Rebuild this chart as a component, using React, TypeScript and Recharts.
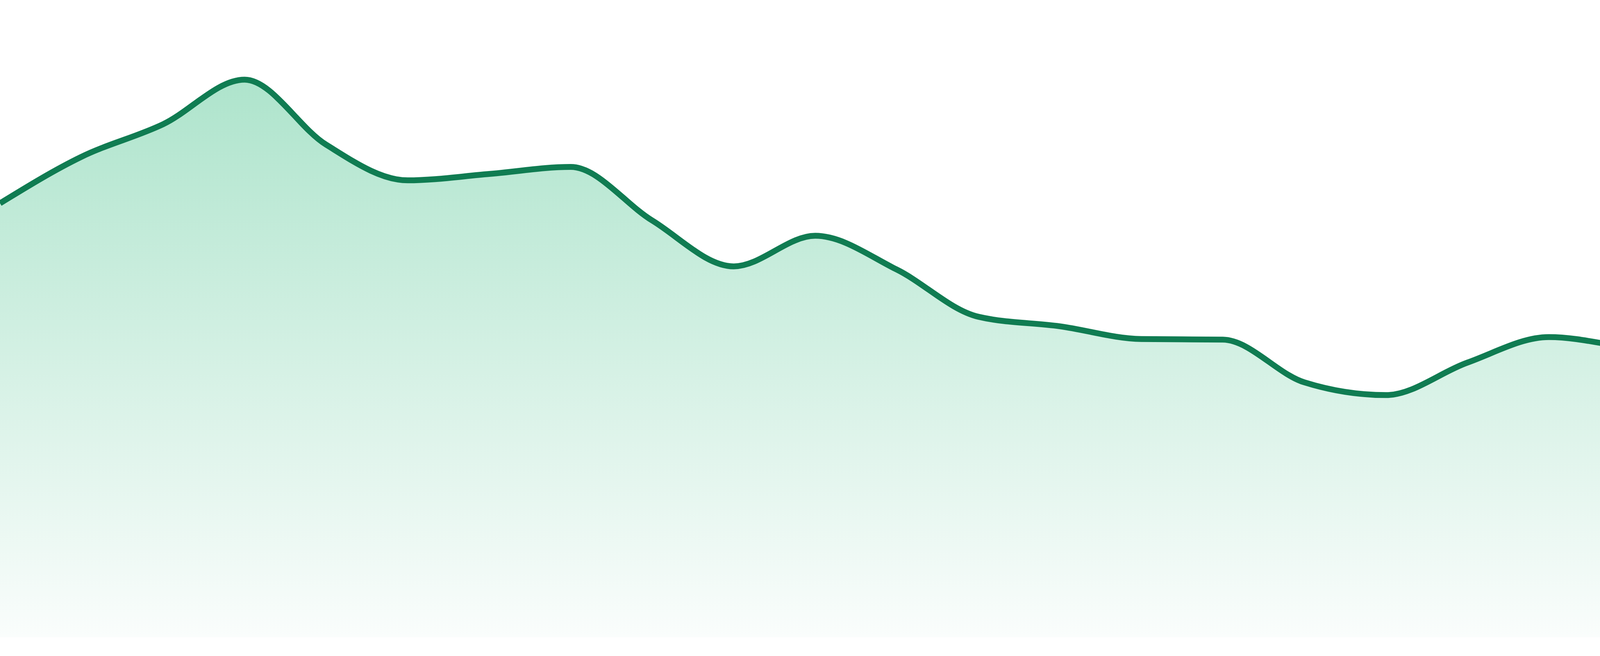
import { AreaChart, Area, XAxis, YAxis } from 'recharts';

// 24 evenly spaced samples, no axes shown in the original
const labels = [
  'P1', 'P2', 'P3', 'P4', 'P5', 'P6', 'P7', 'P8', 'P9', 'P10', 'P11', 'P12',
  'P13', 'P14', 'P15', 'P16', 'P17', 'P18', 'P19', 'P20', 'P21', 'P22', 'P23', 'P24',
];
const values = [
  68.1, 75.4, 80.5, 87.5, 77.3, 71.7, 72.7, 73.8, 65.4, 58.2, 63.0, 57.7,
  50.3, 48.8, 46.8, 46.7, 40.0, 38.0, 43.1, 47.1, 45.4, 43.6, 41.0, 40.3,
];

const data = labels.map((label, i) => ({ label, value: values[i] }));

const STROKE = '#107c52';

export default function App() {
  return (
    <div style={{ position: 'absolute', left: 0, top: 0, background: '#fff' }}>
      <AreaChart
        width={4800}
        height={1680}
        data={data}
        margin={{ top: 0, right: 0, bottom: 48, left: 0 }}
      >
        <defs>
          <linearGradient id="areaFill" x1="0" y1="0" x2="0" y2="1">
            <stop offset="0%" stopColor="#aee4cc" />
            <stop offset="100%" stopColor="#fafdfc" />
          </linearGradient>
        </defs>
        <XAxis dataKey="label" hide />
        <YAxis domain={[0, 100]} hide />
        <Area
          type="monotone"
          dataKey="value"
          stroke={STROKE}
          strokeWidth={15}
          fill="url(#areaFill)"
          fillOpacity={1}
          dot={false}
          activeDot={false}
          isAnimationActive={false}
        />
      </AreaChart>
    </div>
  );
}
